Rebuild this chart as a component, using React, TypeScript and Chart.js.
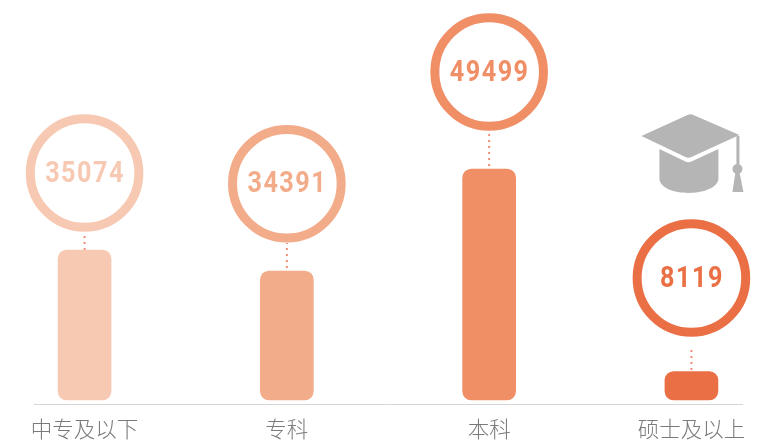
import React, { useEffect, useRef } from "react";
import { Chart, registerables } from "chart.js";

Chart.register(...registerables);

const categories = ["中专及以下", "专科", "本科", "硕士及以上"];
const labelValues = [35074, 34391, 49499, 8119];
const barHeights = [150, 129, 231, 28.5];
const ringCentres = [227, 216.3, 328, 122];
const connectorTops = [166, 157, 269, 52];
const colours = ["#f7c9b2", "#f3ac8a", "#f08e66", "#ea6f45"];
const capHeight = 250;

const ringText = {
  id: "ringText",
  afterDatasetsDraw(chart: any) {
    const { ctx } = chart;
    const idx = chart.data.datasets.findIndex((d: any) => d.label === "rings");
    const meta = chart.getDatasetMeta(idx);
    ctx.save();
    ctx.textAlign = "center";
    ctx.textBaseline = "middle";
    ctx.font = "700 30px Roboto";
    (ctx as any).letterSpacing = "1.8px";
    meta.data.forEach((pt: any, i: number) => {
      ctx.save();
      ctx.translate(pt.x + 0.5, pt.y + 1);
      ctx.scale(0.84, 1);
      ctx.fillStyle = colours[i];
      ctx.fillText(String(labelValues[i]), 0, 0);
      ctx.restore();
    });
    ctx.restore();
  },
};

const capIcon = {
  id: "capIcon",
  afterDatasetsDraw(chart: any) {
    const { ctx, scales } = chart;
    const ox = scales.x.getPixelForValue(3) - 691;
    const oy = scales.y.getPixelForValue(capHeight) - 150;
    ctx.save();
    ctx.translate(ox, oy);
    ctx.fillStyle = "#b5b5b5";
    // mortarboard
    ctx.beginPath();
    ctx.moveTo(641, 136);
    ctx.lineTo(687, 115);
    ctx.quadraticCurveTo(690, 113.5, 693, 115);
    ctx.lineTo(739, 135);
    ctx.lineTo(691, 157);
    ctx.quadraticCurveTo(688, 158.5, 685, 157);
    ctx.closePath();
    ctx.fill();
    // body
    ctx.beginPath();
    ctx.moveTo(659, 149);
    ctx.lineTo(685, 161.5);
    ctx.quadraticCurveTo(688, 163, 691, 161.5);
    ctx.lineTo(718, 149);
    ctx.lineTo(718, 179);
    ctx.bezierCurveTo(716, 197, 661, 198, 659, 179);
    ctx.closePath();
    ctx.fill();
    // tassel
    ctx.fillRect(736, 136, 3, 30);
    ctx.beginPath();
    ctx.arc(737, 169, 5, 0, Math.PI * 2);
    ctx.fill();
    ctx.beginPath();
    ctx.moveTo(735, 172);
    ctx.lineTo(739, 172);
    ctx.lineTo(743, 192);
    ctx.lineTo(732, 192);
    ctx.closePath();
    ctx.fill();
    ctx.restore();
  },
};

export default function App() {
  const ref = useRef<HTMLCanvasElement>(null);
  useEffect(() => {
    document.body.style.margin = "0";
    const connectors = categories.map((_, i) => ({
      type: "line" as const,
      label: "connector" + i,
      data: [
        { x: i, y: 0 },
        { x: i, y: connectorTops[i] },
      ],
      borderColor: "#f08e78",
      borderWidth: 2,
      borderDash: [2, 4],
      pointRadius: 0,
      order: 5,
      clip: false,
    }));
    const chart = new Chart(ref.current as HTMLCanvasElement, {
      type: "bar",
      data: {
        datasets: [
          ...connectors,
          {
            type: "bar",
            label: "bars",
            data: categories.map((_, i) => ({ x: i, y: barHeights[i] })),
            backgroundColor: colours,
            barThickness: 53,
            borderRadius: 9,
            borderSkipped: false,
            order: 3,
          },
          {
            type: "scatter",
            label: "rings",
            data: categories.map((_, i) => ({ x: i, y: ringCentres[i] })),
            pointRadius: 54.3,
            pointHoverRadius: 54.3,
            pointBorderWidth: 9,
            pointBackgroundColor: "#ffffff",
            pointBorderColor: colours,
            order: 1,
            clip: false,
          },
        ] as any,
      },
      options: {
        responsive: false,
        animation: false,
        layout: { autoPadding: false, padding: { left: 34, right: 21, top: 0, bottom: 0 } },
        plugins: { legend: { display: false }, tooltip: { enabled: false } },
        scales: {
          x: {
            type: "linear",
            offset: false,
            min: -0.25,
            max: 3.25,
            afterBuildTicks(axis: any) {
              axis.ticks = categories.map((_, i) => ({ value: i }));
            },
            afterFit(axis: any) {
              axis.height = 37;
            },
            grid: { display: false, drawTicks: false, offset: false },
            border: { display: true, color: "#d6d6d6", width: 1 },
            ticks: {
              autoSkip: false,
              maxRotation: 0,
              padding: 12,
              color: "#7a7a7a",
              font: { family: "'Noto Sans CJK SC'", size: 21.5, weight: 300 },
              callback: (v: any) => categories[v] ?? "",
            },
          },
          y: { display: false, min: -4, max: 400 },
        },
      } as any,
      plugins: [ringText, capIcon],
    });
    return () => chart.destroy();
  }, []);
  return <canvas ref={ref} width={763} height={441} style={{ display: "block" }} />;
}
